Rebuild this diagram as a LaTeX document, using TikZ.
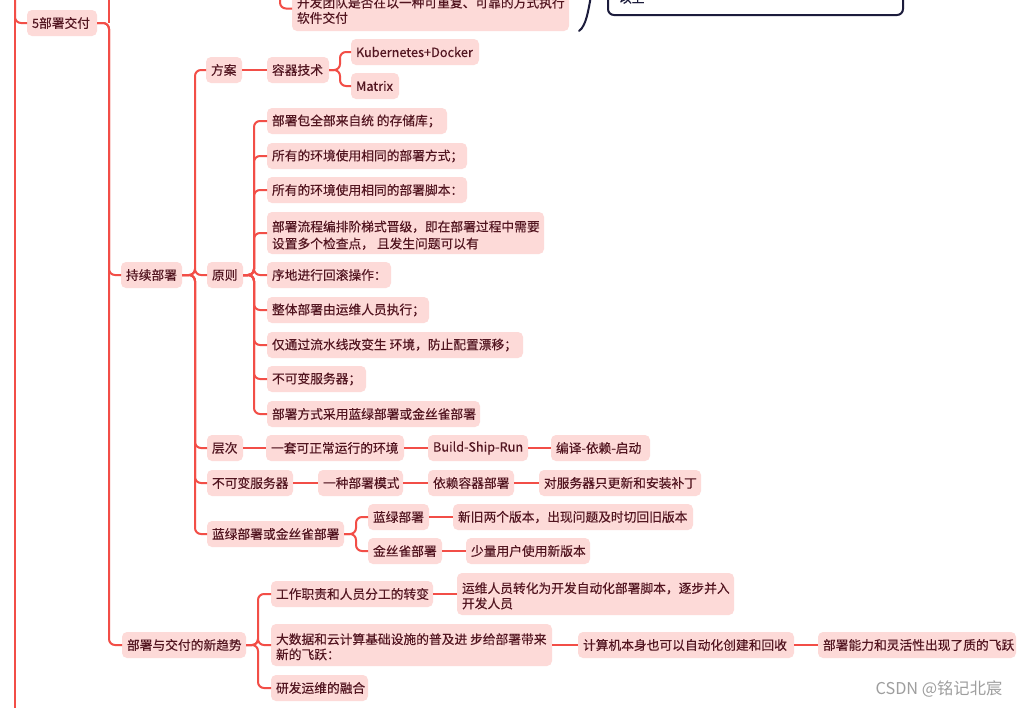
\documentclass[tikz,border=0pt]{standalone}
\usepackage{fontspec}
\newfontfamily\cjk{Noto Sans CJK SC}[FakeBold=0.3]
\newfontfamily\wmfont{Noto Sans CJK SC}
\newlength\pxu \setlength\pxu{0.75pt}
\newcommand\tx[2]{\makebox[#1\pxu][l]{#2}}
\newcommand\ttx[3]{\makebox[#1\pxu][l]{\raisebox{-3.5\pxu}[\height][\depth]{\begin{tabular}{@{}l@{}}#2\\#3\end{tabular}}}}
\definecolor{lnred}{HTML}{F24E47}
\definecolor{boxpink}{HTML}{FDDAD8}
\definecolor{txtc}{HTML}{521520}
\definecolor{navyc}{HTML}{1C1C3C}
\tikzset{
  mbox/.style={fill=boxpink, rounded corners=3.75pt, inner xsep=3.75pt, inner ysep=2.25pt,
    outer sep=0pt, minimum height=19.5pt, anchor=west, text=txtc,
    font=\cjk\fontsize{9.56pt}{12.75pt}\selectfont},
  twoline/.style={minimum height=#1*0.75pt},
  tight/.style={font=\cjk\fontsize{9.56pt}{11.25pt}\selectfont},
  conn/.style={draw=lnred, line width=1.5pt, rounded corners=4.5pt},
}
\begin{document}
\begin{tikzpicture}[x=0.75pt,y=-0.75pt]
\useasboundingbox (0,0) rectangle (1021,707);
\clip (0,0) rectangle (1021,707);
\fill[white] (0,0) rectangle (1021,707);

% nodes
\node[mbox] (n5) at (27,23) {\tx{60}{5部署交付}};
\node[mbox, tight, twoline=45] (top) at (292,8.5) {\ttx{267}{开发团队是否在以一种可重复、可靠的方式执行}{软件交付}};
\node[draw=navyc, line width=1.5pt, rounded corners=4.5pt, anchor=south west, inner xsep=8.25pt,
  minimum height=25.5pt, text=navyc, font=\cjk\fontsize{9.56pt}{12.75pt}\selectfont] (ys) at (607,16) {\tx{273}{以上}};

\node[mbox] (cd) at (121,275) {\tx{51}{持续部署}};
\node[mbox] (fa) at (206,70) {\tx{26}{方案}};
\node[mbox] (rq) at (267,70) {\tx{52}{容器技术}};
\node[mbox] (kd) at (351,52) {\tx{118}{Kubernetes+Docker}};
\node[mbox] (mx) at (351,86) {\tx{38}{Matrix}};

\node[mbox] (yz) at (207,275) {\tx{26}{原则}};
\node[mbox] (p1) at (267,121) {\tx{170}{部署包全部来自统 的存储库；}};
\node[mbox] (p2) at (267,156) {\tx{190}{所有的环境使用相同的部署方式；}};
\node[mbox] (p3) at (267,190) {\tx{190}{所有的环境使用相同的部署脚本：}};
\node[mbox, twoline=42] (p4) at (267,233) {\ttx{267}{部署流程编排阶梯式晋级，即在部署过程中需要}{设置多个检查点， 且发生问题可以有}};
\node[mbox] (p5) at (267,275) {\tx{114}{序地进行回滚操作：}};
\node[mbox] (p6) at (267,310) {\tx{152}{整体部署由运维人员执行；}};
\node[mbox] (p7) at (267,345) {\tx{246}{仅通过流水线改变生 环境，防止配置漂移；}};
\node[mbox] (p8) at (267,379) {\tx{89}{不可变服务器；}};
\node[mbox] (p9) at (267,414) {\tx{203}{部署方式采用蓝绿部署或金丝雀部署}};

\node[mbox] (cc) at (207,448) {\tx{26}{层次}};
\node[mbox] (c1) at (266,448) {\tx{128}{一套可正常运行的环境}};
\node[mbox] (c2) at (428,448) {\tx{90}{Build-Ship-Run}};
\node[mbox] (c3) at (551,448) {\tx{89}{编译-依赖-启动}};

\node[mbox] (bk) at (207,483) {\tx{76}{不可变服务器}};
\node[mbox] (b1) at (318,483) {\tx{75}{一种部署模式}};
\node[mbox] (b2) at (428,483) {\tx{76}{依赖容器部署}};
\node[mbox] (b3) at (539,483) {\tx{152}{对服务器只更新和安装补丁}};

\node[mbox] (lj) at (207,534) {\tx{127}{蓝绿部署或金丝雀部署}};
\node[mbox] (l1) at (368,517) {\tx{51}{蓝绿部署}};
\node[mbox] (l2) at (368,551) {\tx{64}{金丝雀部署}};
\node[mbox] (l3) at (453,517) {\tx{230}{新旧两个版本，出现问题及时切回旧版本}};
\node[mbox] (l4) at (466,551) {\tx{114}{少量用户使用新版本}};

\node[mbox] (qs) at (122,645) {\tx{114}{部署与交付的新趋势}};
\node[mbox] (q1) at (271,594) {\tx{152}{工作职责和人员分工的转变}};
\node[mbox, tight, twoline=42] (q2) at (271,645) {\ttx{271}{大数据和云计算基础设施的普及进 步给部署带来}{新的飞跃：}};
\node[mbox] (q3) at (271,688) {\tx{87}{研发运维的融合}};
\node[mbox, tight, twoline=42] (q4) at (457,594) {\ttx{267}{运维人员转化为开发自动化部署脚本，逐步并入}{开发人员}};
\node[mbox] (q5) at (578,645) {\tx{206}{计算机本身也可以自动化创建和回收}};
\node[mbox] (q6) at (818,645) {\tx{188}{部署能力和灵活性出现了质的飞跃}};

\node[anchor=east, text=black!38, font=\wmfont\fontsize{12.2pt}{14pt}\selectfont] (wm) at (1007,689) {CSDN @铭记北宸};

% connectors
\draw[conn] (15,-5) -- (15,712);
\draw[conn] (15,-5) |- (n5.west);
\draw[conn] (109,-5) -- (109,23);
\draw[conn] (n5.east) -- ++(12,0) |- (cd.west);
\draw[conn] (n5.east) -- ++(12,0) |- (qs.west);
\draw[conn] (280,-5) |- (top.west);

\foreach \c in {fa,yz,cc,bk,lj} \draw[conn] (cd.east) -- ++(13,0) |- (\c.west);
\draw[conn] (fa.east) -- (rq.west);
\foreach \c in {kd,mx} \draw[conn] (rq.east) -- ++(11,0) |- (\c.west);
\foreach \c in {p1,p2,p3,p4,p5,p6,p7,p8,p9} \draw[conn] (yz.east) -- ++(11,0) |- (\c.west);
\draw[conn] (cc.east) -- (c1.west);
\draw[conn] (c1.east) -- (c2.west);
\draw[conn] (c2.east) -- (c3.west);
\draw[conn] (bk.east) -- (b1.west);
\draw[conn] (b1.east) -- (b2.west);
\draw[conn] (b2.east) -- (b3.west);
\foreach \c in {l1,l2} \draw[conn] (lj.east) -- ++(12,0) |- (\c.west);
\draw[conn] (l1.east) -- (l3.west);
\draw[conn] (l2.east) -- (l4.west);
\foreach \c in {q1,q2,q3} \draw[conn] (qs.east) -- ++(12,0) |- (\c.west);
\draw[conn] (q1.east) -- (q4.west);
\draw[conn] (q2.east) -- (q5.west);
\draw[conn] (q5.east) -- (q6.west);

% brace
\draw[navyc, line width=1.5pt, line cap=round] (579,31) .. controls (586,26) and (588,12) .. (591,-4);
\end{tikzpicture}
\end{document}
